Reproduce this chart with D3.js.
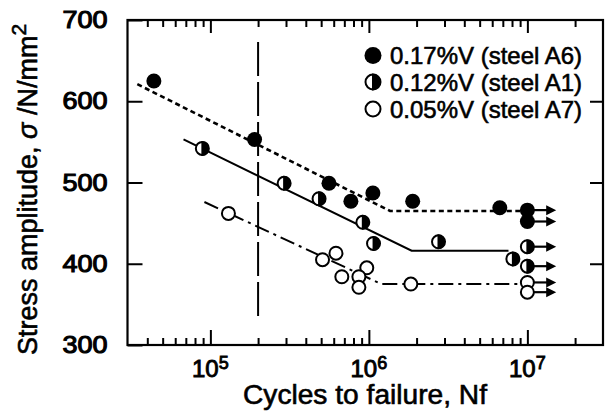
<!DOCTYPE html>
<html><head><meta charset="utf-8">
<script src="https://cdn.jsdelivr.net/npm/d3@7"></script>
<style>body{margin:0;background:#fff}</style>
</head><body>
<svg id="c" width="605" height="419"></svg>
<script>
// ---------- data ----------
const xDomain = [3e4, 3e7];
const yDomain = [300, 700];
const xMajorTicks = [1e5, 1e6, 1e7];
const xMajorExp = ["5", "6", "7"];
const xMinorTicks = [4e4,5e4,6e4,7e4,8e4,9e4,
  2e5,3e5,4e5,5e5,6e5,7e5,8e5,9e5,
  2e6,3e6,4e6,5e6,6e6,7e6,8e6,9e6,2e7];
const yTicks = [300, 400, 500, 600, 700];

const legendLabels = ["0.17%V (steel A6)", "0.12%V (steel A1)", "0.05%V (steel A7)"];

// steel A6 (filled)
const a6N = [4.4e4, 1.9e5, 5.6e5, 7.7e5, 1.06e6, 1.89e6, 6.7e6];
const a6S = [625, 553, 499, 477, 487, 477, 469];
const a6RunN = [1e7, 1e7];
const a6RunS = [466, 452];
const a6LineN = [3.46e4, 1.36e6, 9.2e6];
const a6LineS = [621, 465, 465];

// steel A1 (half filled)
const a1N = [8.9e4, 2.92e5, 4.85e5, 9.16e5, 1.07e6, 2.75e6, 8.1e6];
const a1S = [542, 499, 480, 451, 425, 427, 406];
const a1RunN = [1e7, 1e7];
const a1RunS = [421, 397];
const a1LineN = [6.77e4, 1.86e6, 7.6e6];
const a1LineS = [553, 416, 416];

// steel A7 (open)
const a7N = [1.3e5, 5.1e5, 6.2e5, 6.75e5, 9.7e5, 8.65e5, 8.65e5, 1.84e6];
const a7S = [462, 405, 413, 384, 395, 384, 371, 375];
const a7RunN = [1e7, 1e7];
const a7RunS = [377, 365];
const a7LineN = [9.17e4, 1.2e6, 8.9e6];
const a7LineS = [476, 375, 375];

const arrowTipN = 1.52e7;
const vLineN = 2e5;
const vLineS = [673, 331];

// ---------- drawing ----------
const FONT = "'Liberation Sans', Arial, Helvetica, sans-serif";
const svg = d3.select("#c");
const x = d3.scaleLog().domain(xDomain).range([127.5, 603]);
const y = d3.scaleLinear().domain(yDomain).range([345, 20]);
const X0 = x.range()[0], X1 = x.range()[1], Y0 = y.range()[0], Y1 = y.range()[1];

const axisStyle = g => {
  g.select(".domain").remove();
  g.selectAll("line").attr("stroke", "#000").attr("stroke-width", 2);
};

// bottom ticks
svg.append("g").attr("transform", `translate(0,${Y0})`)
  .call(d3.axisBottom(x).tickValues(xMinorTicks).tickSize(-7).tickFormat(""))
  .call(axisStyle);
svg.append("g").attr("transform", `translate(0,${Y0})`)
  .call(d3.axisBottom(x).tickValues(xMajorTicks).tickSize(-15).tickFormat(""))
  .call(axisStyle);
// top ticks
svg.append("g").attr("transform", `translate(0,${Y1})`)
  .call(d3.axisTop(x).tickValues(xMinorTicks).tickSize(-7).tickFormat(""))
  .call(axisStyle);
svg.append("g").attr("transform", `translate(0,${Y1})`)
  .call(d3.axisTop(x).tickValues(xMajorTicks).tickSize(-13).tickFormat(""))
  .call(axisStyle);
// left ticks with labels
const yl = svg.append("g").attr("transform", `translate(${X0},0)`)
  .call(d3.axisLeft(y).tickValues(yTicks).tickSize(-15).tickPadding(20).tickFormat(d3.format("d")))
  .call(axisStyle);
yl.selectAll("text").attr("font-family", FONT).attr("font-size", 24)
  .attr("fill", "#000").attr("stroke", "#000").attr("stroke-width", 1.1)
  .attr("textLength", 45).attr("lengthAdjust", "spacingAndGlyphs");
// right ticks
svg.append("g").attr("transform", `translate(${X1},0)`)
  .call(d3.axisRight(y).tickValues([400, 500, 600]).tickSize(-13).tickFormat(""))
  .call(axisStyle);

// frame
svg.append("rect").attr("x", X0).attr("y", Y1).attr("width", X1 - X0).attr("height", Y0 - Y1)
  .attr("fill", "none").attr("stroke", "#000").attr("stroke-width", 2.2);

// x tick labels
xMajorTicks.forEach((v, i) => {
  const t = svg.append("text").attr("x", x(v)).attr("y", 377)
    .attr("text-anchor", "middle").attr("font-family", FONT).attr("font-size", 24)
    .attr("stroke", "#000").attr("stroke-width", 0.9);
  t.append("tspan").text("10");
  t.append("tspan").attr("dy", -8).attr("font-size", 18).text(xMajorExp[i]);
});

// axis titles
svg.append("text").attr("x", 243).attr("y", 404)
  .attr("font-family", FONT).attr("font-size", 27)
  .attr("stroke", "#000").attr("stroke-width", 0.6)
  .attr("textLength", 244).attr("lengthAdjust", "spacingAndGlyphs")
  .text("Cycles to failure, Nf");

const yt = svg.append("text").attr("transform", "translate(37,355) rotate(-90)")
  .attr("font-family", FONT).attr("font-size", 27)
  .attr("stroke", "#000").attr("stroke-width", 0.6);
yt.append("tspan").text("Stress amplitude,  ");
yt.append("tspan").attr("font-style", "italic").text("σ");
yt.append("tspan").text(" /N/mm");
yt.append("tspan").attr("dy", -11).attr("font-size", 21).text("2");

// vertical dashed line
svg.append("line").attr("x1", x(vLineN)).attr("x2", x(vLineN))
  .attr("y1", y(vLineS[0])).attr("y2", y(vLineS[1]))
  .attr("stroke", "#000").attr("stroke-width", 2).attr("stroke-dasharray", "34,6");

// fit lines
const line = d3.line().x(d => x(d[0])).y(d => y(d[1]));
const mk = (N, S) => N.map((n, i) => [n, S[i]]);
svg.append("path").attr("d", line(mk(a6LineN, a6LineS))).attr("fill", "none")
  .attr("stroke", "#000").attr("stroke-width", 2.6).attr("stroke-dasharray", "5,3.5");
svg.append("path").attr("d", line(mk(a1LineN, a1LineS))).attr("fill", "none")
  .attr("stroke", "#000").attr("stroke-width", 2);
svg.append("path").attr("d", line(mk(a7LineN, a7LineS))).attr("fill", "none")
  .attr("stroke", "#000").attr("stroke-width", 2).attr("stroke-dasharray", "15,5,3,5");

// runout arrows
function arrows(N, S) {
  N.forEach((n, i) => {
    const x0 = x(n), yy = y(S[i]), xt = x(arrowTipN);
    svg.append("line").attr("x1", x0).attr("x2", xt - 8).attr("y1", yy).attr("y2", yy)
      .attr("stroke", "#000").attr("stroke-width", 2.2);
    svg.append("path").attr("d", `M${xt},${yy} L${xt - 10},${yy - 5} L${xt - 10},${yy + 5} Z`)
      .attr("fill", "#000");
  });
}
arrows(a6RunN, a6RunS);
arrows(a1RunN, a1RunS);
arrows(a7RunN, a7RunS);

// markers
function filled(cx, cy, r) {
  svg.append("circle").attr("cx", cx).attr("cy", cy).attr("r", r).attr("fill", "#000");
}
function half(cx, cy, r) {
  svg.append("circle").attr("cx", cx).attr("cy", cy).attr("r", r - 1)
    .attr("fill", "#fff").attr("stroke", "#000").attr("stroke-width", 2);
  svg.append("path").attr("d", `M${cx - 1},${cy - r} A${r},${r} 0 0 1 ${cx - 1},${cy + r} Z`)
    .attr("fill", "#000");
}
function open(cx, cy, r) {
  svg.append("circle").attr("cx", cx).attr("cy", cy).attr("r", r - 1)
    .attr("fill", "#fff").attr("stroke", "#000").attr("stroke-width", 2);
}
mk(a7N.concat(a7RunN), a7S.concat(a7RunS)).forEach(d => open(x(d[0]), y(d[1]), 7.5));
mk(a1N.concat(a1RunN), a1S.concat(a1RunS)).forEach(d => half(x(d[0]), y(d[1]), 7.5));
mk(a6N.concat(a6RunN), a6S.concat(a6RunS)).forEach(d => filled(x(d[0]), y(d[1]), 7.5));

// legend
const legY = [55.5, 82, 109];
const legFns = [filled, half, open];
legendLabels.forEach((lab, i) => {
  legFns[i](373, legY[i], 8.5);
  svg.append("text").attr("x", 390).attr("y", legY[i] + 8.5)
    .attr("font-family", FONT).attr("font-size", 24)
    .attr("stroke", "#000").attr("stroke-width", 0.6)
    .attr("textLength", 192).attr("lengthAdjust", "spacingAndGlyphs")
    .text(lab);
});
</script>
</body></html>
